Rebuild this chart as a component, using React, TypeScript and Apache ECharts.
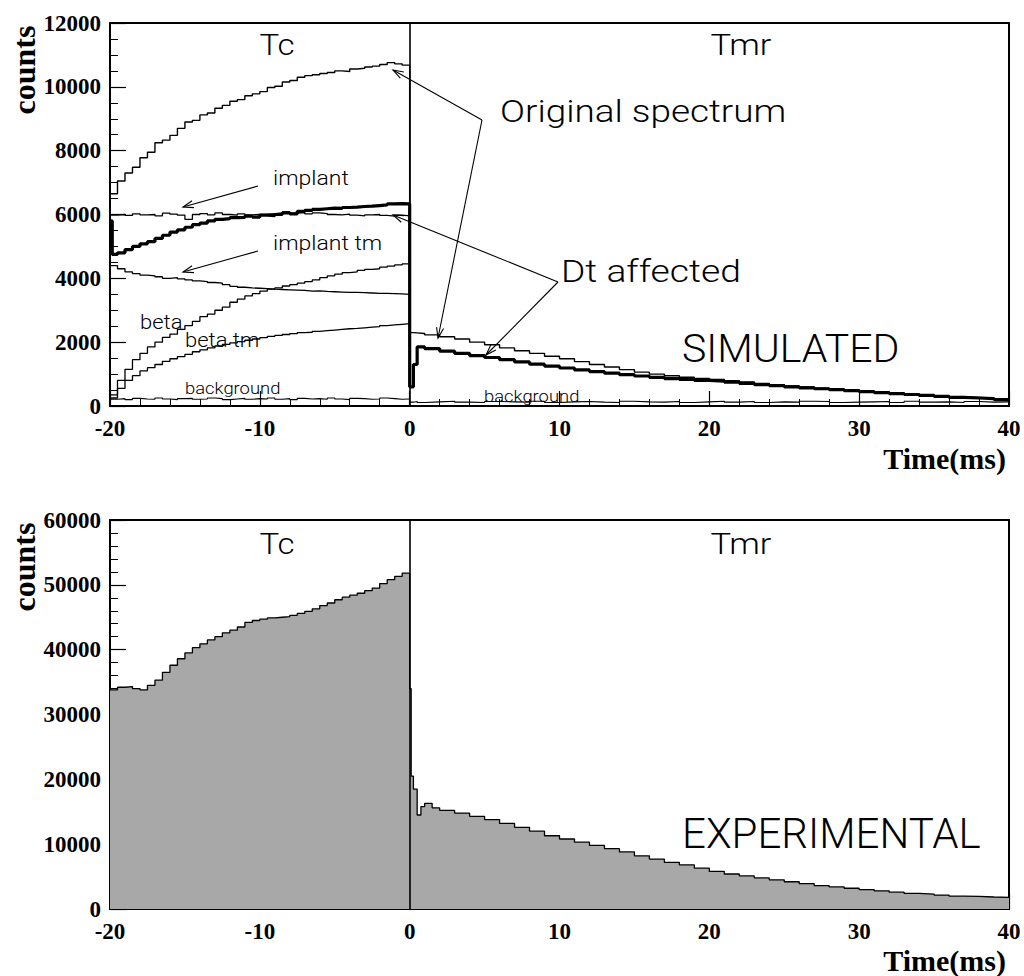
import React, { useEffect, useRef } from "react";
import * as echarts from "echarts";

// ---------- DATA ----------
// bin lower edges (ms)
const tcEdges = [-20, -19.5, -19, -18.5, -18, -17.5, -17, -16.5, -16, -15.5, -15, -14.5, -14, -13.5, -13, -12.5, -12, -11.5, -11, -10.5, -10, -9.5, -9, -8.5, -8, -7.5, -7, -6.5, -6, -5.5, -5, -4.5, -4, -3.5, -3, -2.5, -2, -1.5, -1, -0.5];
const tcDtEdges = [-20, -19.85, -19.5, -19, -18.5, -18, -17.5, -17, -16.5, -16, -15.5, -15, -14.5, -14, -13.5, -13, -12.5, -12, -11.5, -11, -10.5, -10, -9.5, -9, -8.5, -8, -7.5, -7, -6.5, -6, -5.5, -5, -4.5, -4, -3.5, -3, -2.5, -2, -1.5, -1, -0.5];
const tmrEdges = [0, 0.25, 0.5, 1, 2, 3, 4, 5, 6, 7, 8, 9, 10, 11, 12, 13, 14, 15, 16, 17, 18, 19, 20, 21, 22, 23, 24, 25, 26, 27, 28, 29, 30, 31, 32, 33, 34, 35, 36, 37, 38, 39];
const expTmrEdges = [0, 0.1, 0.25, 0.5, 0.75, 1, 1.5, 2, 3, 4, 5, 6, 7, 8, 9, 10, 11, 12, 13, 14, 15, 16, 17, 18, 19, 20, 21, 22, 23, 24, 25, 26, 27, 28, 29, 30, 31, 32, 33, 34, 35, 36, 37, 38, 39];
const tEnd = 40;

// SIMULATED panel, Tc part (-20..0 ms)
const tcOriginal = [6650, 7050, 7300, 7480, 7780, 7950, 8250, 8330, 8480, 8700, 8900, 8950, 9120, 9180, 9330, 9420, 9550, 9600, 9720, 9780, 9850, 9980, 10020, 10150, 10200, 10300, 10350, 10380, 10420, 10450, 10500, 10480, 10560, 10580, 10620, 10650, 10700, 10760, 10720, 10680];
const tcDtAffected = [5800, 4750, 4800, 4900, 5000, 5080, 5150, 5250, 5350, 5450, 5520, 5600, 5680, 5730, 5800, 5850, 5870, 5900, 5910, 5950, 5920, 5980, 5960, 6000, 6050, 6020, 6100, 6130, 6160, 6180, 6200, 6190, 6220, 6230, 6250, 6260, 6280, 6300, 6330, 6340, 6330];
const tcImplant = [5980, 6000, 5970, 6020, 5990, 6000, 5960, 6040, 6010, 5980, 5850, 6000, 6030, 5990, 6050, 6000, 5980, 6020, 5990, 6000, 6010, 6030, 6050, 6080, 6040, 6060, 6020, 6050, 6030, 6000, 5990, 6010, 5980, 5960, 5990, 6000, 5970, 5950, 5980, 5960];
const tcImplantTm = [4400, 4300, 4200, 4150, 4100, 4080, 4050, 4000, 4020, 3980, 3950, 3920, 3900, 3870, 3850, 3800, 3750, 3720, 3700, 3690, 3680, 3660, 3650, 3640, 3630, 3620, 3600, 3610, 3590, 3580, 3570, 3560, 3560, 3550, 3540, 3530, 3530, 3520, 3510, 3500];
const tcBeta = [350, 800, 1150, 1450, 1650, 1850, 2000, 2150, 2250, 2400, 2520, 2650, 2800, 2880, 3000, 3100, 3250, 3350, 3450, 3520, 3600, 3660, 3700, 3760, 3800, 3850, 3900, 3950, 4020, 4080, 4130, 4180, 4200, 4250, 4280, 4300, 4350, 4380, 4420, 4450];
const tcBetaTm = [250, 550, 800, 950, 1100, 1200, 1300, 1400, 1480, 1550, 1620, 1700, 1760, 1820, 1880, 1930, 1980, 2020, 2060, 2100, 2140, 2180, 2210, 2240, 2270, 2300, 2310, 2340, 2360, 2380, 2400, 2420, 2430, 2450, 2470, 2490, 2520, 2540, 2560, 2580];
const tcBackground = [210, 230, 200, 240, 220, 210, 250, 220, 200, 230, 240, 210, 220, 250, 230, 200, 220, 240, 210, 230, 220, 250, 210, 230, 200, 240, 220, 230, 210, 250, 220, 200, 240, 230, 210, 220, 250, 230, 210, 220];

// SIMULATED panel, Tmr part (0..40 ms)
const tmrOriginal = [2300, 2290, 2270, 2230, 2170, 2100, 2000, 1920, 1820, 1730, 1650, 1560, 1480, 1390, 1300, 1220, 1140, 1060, 1000, 950, 900, 860, 830, 790, 750, 710, 670, 630, 600, 560, 530, 500, 470, 440, 410, 380, 350, 320, 290, 270, 250, 220];
const tmrDtAffected = [600, 1300, 1850, 1800, 1720, 1650, 1580, 1520, 1450, 1380, 1310, 1250, 1190, 1130, 1080, 1030, 980, 940, 900, 860, 830, 800, 780, 750, 710, 670, 640, 600, 570, 540, 510, 480, 450, 420, 390, 360, 330, 300, 270, 250, 230, 200];
const tmrBackground = [120, 140, 110, 130, 150, 120, 110, 140, 130, 120, 150, 110, 130, 140, 120, 110, 150, 130, 120, 140, 110, 130, 150, 120, 140, 110, 130, 120, 150, 140, 110, 120, 130, 140, 110, 150, 120, 130, 110, 140, 120, 130];

// EXPERIMENTAL panel
const expTc = [33800, 34200, 34300, 34000, 33800, 34500, 35300, 36500, 37600, 38600, 39500, 40300, 40900, 41500, 42000, 42600, 43000, 43500, 44200, 44500, 44700, 44900, 45000, 45100, 45300, 45600, 45900, 46300, 46800, 47200, 47700, 48100, 48400, 48700, 49100, 49500, 50200, 50800, 51300, 51800];
const expTmr = [34000, 20500, 18500, 14500, 15800, 16300, 15600, 15200, 14800, 14300, 13800, 13200, 12600, 12000, 11300, 10800, 10300, 9800, 9300, 8800, 8200, 7700, 7200, 6800, 6300, 5800, 5400, 5100, 4800, 4500, 4200, 3900, 3600, 3400, 3200, 3000, 2800, 2600, 2400, 2300, 2150, 2000, 1950, 1850, 1800];

// axis tick settings
const xTicks = { min: -20, max: 40, interval: 10 };
const yTopTicks = { min: 0, max: 12000, interval: 2000 };
const yBottomTicks = { min: 0, max: 60000, interval: 10000 };

// ---------- helpers ----------
function histPairs(edges: number[], values: number[]) {
  return edges.map((e, i) => [e, values[i]]);
}
function closeHist(pairs: number[][], end: number) {
  const last = pairs[pairs.length - 1];
  return [...pairs, [end, last[1]]];
}

const SERIF = "'Liberation Serif', 'Times New Roman', serif";
const THIN = "Roboto, 'DejaVu Sans', sans-serif";

function arrowHead(x1: number, y1: number, x2: number, y2: number, len = 11, ang = 0.33) {
  const a = Math.atan2(y2 - y1, x2 - x1);
  return [
    [x2 - len * Math.cos(a - ang), y2 - len * Math.sin(a - ang)],
    [x2, y2],
    [x2 - len * Math.cos(a + ang), y2 - len * Math.sin(a + ang)],
  ];
}

function arrow(x1: number, y1: number, x2: number, y2: number, head = true): any[] {
  const els: any[] = [
    { type: "line", shape: { x1, y1, x2, y2 }, style: { stroke: "#000", lineWidth: 1.1 }, silent: true },
  ];
  if (head) {
    els.push({ type: "polyline", shape: { points: arrowHead(x1, y1, x2, y2) }, style: { stroke: "#000", lineWidth: 1.1, fill: "none" }, silent: true });
  }
  return els;
}

function label(text: string, x: number, y: number, size: number, align = "left", sx = 1) {
  return {
    type: "text",
    x,
    y,
    scaleX: sx,
    silent: true,
    style: { text, fontFamily: THIN, fontWeight: 300, fontSize: size, fill: "#000", align, verticalAlign: "middle" },
  };
}

function serifLabel(text: string, x: number, y: number, size: number, align = "left", extra: any = {}) {
  return {
    type: "text",
    x,
    y,
    silent: true,
    ...extra,
    style: { text, fontFamily: SERIF, fontWeight: "bold", fontSize: size, fill: "#000", align, verticalAlign: "middle" },
  };
}

function xAxisCfg(gridIndex: number, labelMargin: number) {
  return {
    type: "value",
    gridIndex,
    ...xTicks,
    axisLine: { show: true, onZero: false, lineStyle: { color: "#000", width: 2 } },
    axisTick: { show: true, inside: true, length: 15, lineStyle: { color: "#000", width: 1.2 } },
    minorTick: { show: true, splitNumber: 5, length: 7, lineStyle: { color: "#000", width: 1 } },
    splitLine: { show: false },
    axisLabel: { color: "#000", fontFamily: SERIF, fontWeight: "bold", fontSize: 23, margin: labelMargin, formatter: (v: number) => String(v) },
  };
}

function yAxisCfg(gridIndex: number, t: { min: number; max: number; interval: number }, minorSplit: number) {
  return {
    type: "value",
    gridIndex,
    ...t,
    axisLine: { show: true, onZero: false, lineStyle: { color: "#000", width: 2 } },
    axisTick: { show: true, inside: true, length: 16, lineStyle: { color: "#000", width: 1.2 } },
    minorTick: { show: true, splitNumber: minorSplit, length: 8, lineStyle: { color: "#000", width: 1 } },
    splitLine: { show: false },
    axisLabel: { color: "#000", fontFamily: SERIF, fontWeight: "bold", fontSize: 23, margin: 9, formatter: (v: number) => String(v) },
  };
}

function stepSeries(name: string, data: number[][], width: number, gridIdx: number, extra: any = {}) {
  return {
    name,
    type: "line",
    step: "end",
    xAxisIndex: gridIdx,
    yAxisIndex: gridIdx,
    data,
    symbol: "none",
    showSymbol: false,
    lineStyle: { color: "#000", width },
    silent: true,
    ...extra,
  };
}

const divider = {
  silent: true,
  symbol: ["none", "none"],
  label: { show: false },
  lineStyle: { color: "#000", width: 1.6, type: "solid" },
  data: [{ xAxis: 0 }],
};

export default function App() {
  const ref = useRef<HTMLDivElement>(null);

  useEffect(() => {
    const chart = echarts.init(ref.current!, null, { renderer: "svg" });

    const originalAll = closeHist([...histPairs(tcEdges, tcOriginal), ...histPairs(tmrEdges, tmrOriginal)], tEnd);
    const dtAll = closeHist([...histPairs(tcDtEdges, tcDtAffected), ...histPairs(tmrEdges, tmrDtAffected)], tEnd);
    const implant = closeHist(histPairs(tcEdges, tcImplant), 0);
    const implantTm = closeHist(histPairs(tcEdges, tcImplantTm), 0);
    const beta = closeHist(histPairs(tcEdges, tcBeta), 0);
    const betaTm = closeHist(histPairs(tcEdges, tcBetaTm), 0);
    const bgTc = closeHist(histPairs(tcEdges, tcBackground), 0);
    const bgTmr = closeHist(histPairs(tmrEdges, tmrBackground), tEnd);
    const expAll = closeHist([...histPairs(tcEdges, expTc), ...histPairs(expTmrEdges, expTmr)], tEnd);

    const graphics: any[] = [
      // axis titles
      serifLabel("counts", 24, 70, 32, "center", { rotation: Math.PI / 2 }),
      serifLabel("Time(ms)", 1006, 458, 30, "right"),
      serifLabel("counts", 24, 567, 32, "center", { rotation: Math.PI / 2 }),
      serifLabel("Time(ms)", 1006, 960, 30, "right"),
      // top panel texts
      label("Tc", 277, 45, 30, "center", 1.1),
      label("Tmr", 741, 45, 30, "center", 1.15),
      label("Original spectrum", 500, 111, 31, "left", 1.19),
      label("Dt affected", 561, 271, 31, "left", 1.2),
      label("SIMULATED", 682, 349, 38, "left", 1.08),
      label("implant", 273, 178, 20, "left", 1.15),
      label("implant tm", 273, 243, 20, "left", 1.15),
      label("beta", 140, 322, 20, "left", 1.1),
      label("beta tm", 185, 340, 20, "left", 1.1),
      label("background", 185, 388, 16, "left", 1.15),
      label("background", 484, 396, 16, "left", 1.15),
      // bottom panel texts
      label("Tc", 277, 544, 30, "center", 1.1),
      label("Tmr", 741, 544, 30, "center", 1.15),
      label("EXPERIMENTAL", 682, 833, 42, "left", 1.0),
      // annotation arrows
      ...arrow(482, 120, 393, 70),
      ...arrow(482, 120, 438, 338),
      ...arrow(558, 282, 393, 215),
      ...arrow(558, 282, 486, 355),
      ...arrow(258, 186, 183, 207),
      ...arrow(258, 251, 183, 272),
    ];

    chart.setOption({
      animation: false,
      backgroundColor: "#fff",
      grid: [
        { left: 110, top: 23, width: 899, height: 383, show: true, borderColor: "#000", borderWidth: 2, backgroundColor: "transparent" },
        { left: 110, top: 520, width: 899, height: 389, show: true, borderColor: "#000", borderWidth: 2, backgroundColor: "transparent" },
      ],
      xAxis: [xAxisCfg(0, 11), xAxisCfg(1, 11)],
      yAxis: [yAxisCfg(0, yTopTicks, 4), yAxisCfg(1, yBottomTicks, 5)],
      series: [
        stepSeries("background Tc", bgTc, 1.1, 0),
        stepSeries("background Tmr", bgTmr, 1.1, 0),
        stepSeries("beta tm", betaTm, 1.3, 0),
        stepSeries("beta", beta, 1.3, 0),
        stepSeries("implant tm", implantTm, 1.3, 0),
        stepSeries("implant", implant, 1.3, 0),
        stepSeries("Original spectrum", originalAll, 1.4, 0, { markLine: divider }),
        stepSeries("Dt affected", dtAll, 3.2, 0),
        stepSeries("Experimental", expAll, 1.3, 1, {
          areaStyle: { color: "#a8a8a8", opacity: 1 },
          markLine: divider,
        }),
      ],
      graphic: graphics,
    });

    return () => chart.dispose();
  }, []);

  return (
    <div
      ref={ref}
      style={{ position: "fixed", left: 0, top: 0, width: 1024, height: 976, background: "#fff" }}
    />
  );
}
